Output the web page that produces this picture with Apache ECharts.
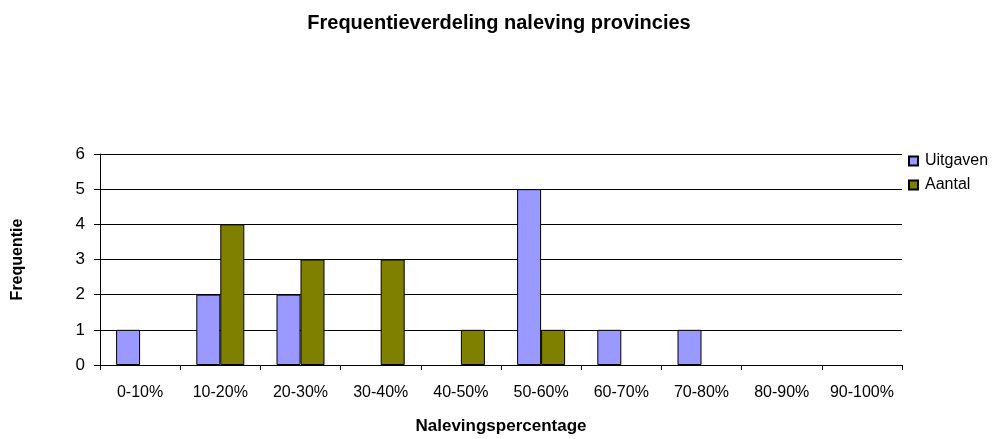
<!DOCTYPE html>
<html>
<head>
<meta charset="utf-8">
<script src="https://cdn.jsdelivr.net/npm/echarts@6/dist/echarts.min.js"></script>
<style>
  html, body { margin: 0; padding: 0; background: #fff; }
  #chart { width: 998px; height: 439px; }
</style>
</head>
<body>
<div id="chart"></div>
<script>
// frequency of provinces per compliance bucket
var categories = ['0-10%', '10-20%', '20-30%', '30-40%', '40-50%', '50-60%', '60-70%', '70-80%', '80-90%', '90-100%'];
var uitgaven = [1, 2, 2, 0, 0, 5, 1, 1, 0, 0];
var aantal = [0, 4, 3, 3, 1, 1, 0, 0, 0, 0];
var yTicks = [0, 1, 2, 3, 4, 5, 6];

// zero buckets draw no bar at all
function noZero(arr) {
  return arr.map(function (v) { return v === 0 ? '-' : v; });
}

var font = 'Arial, "Liberation Sans", sans-serif';
var chart = echarts.init(document.getElementById('chart'));

chart.setOption({
  animation: false,
  textStyle: { fontFamily: font, color: '#000' },
  title: {
    text: 'Frequentieverdeling naleving provincies',
    left: 'center',
    top: 8,
    textStyle: { fontFamily: font, fontSize: 20, fontWeight: 'bold', color: '#000' }
  },
  legend: {
    orient: 'vertical',
    left: 903,
    top: 148,
    itemWidth: 9,
    itemHeight: 9,
    itemGap: 8,
    icon: 'rect',
    textStyle: { fontFamily: font, fontSize: 16, color: '#000', padding: [0, 0, 0, 2] },
    data: ['Uitgaven', 'Aantal']
  },
  grid: { left: 100, right: 96, top: 154, bottom: 74, containLabel: false },
  xAxis: {
    type: 'category',
    data: categories,
    name: 'Nalevingspercentage',
    nameLocation: 'middle',
    nameGap: 53,
    nameTextStyle: { fontFamily: font, fontSize: 17, fontWeight: 'bold', color: '#000' },
    axisLine: { lineStyle: { color: '#000', width: 1 } },
    axisTick: { show: true, interval: 0, length: 5, inside: false, lineStyle: { color: '#000' } },
    axisLabel: { interval: 0, fontFamily: font, fontSize: 16, color: '#000', margin: 20 },
    splitLine: { show: false }
  },
  yAxis: {
    type: 'value',
    min: yTicks[0],
    max: yTicks[yTicks.length - 1],
    interval: 1,
    name: 'Frequentie',
    nameLocation: 'middle',
    nameGap: 74,
    nameTextStyle: { fontFamily: font, fontSize: 16, fontWeight: 'bold', color: '#000' },
    axisLine: { show: true, lineStyle: { color: '#000', width: 1 } },
    axisTick: { show: true, length: 6, lineStyle: { color: '#000' } },
    axisLabel: { fontFamily: font, fontSize: 17, color: '#000', margin: 15 },
    splitLine: { show: true, lineStyle: { color: '#000', width: 1 } }
  },
  series: [
    {
      name: 'Uitgaven',
      type: 'bar',
      data: noZero(uitgaven),
      barWidth: 24,
      barGap: '0%',
      itemStyle: { color: '#9999FF', borderColor: '#000', borderWidth: 1 }
    },
    {
      name: 'Aantal',
      type: 'bar',
      data: noZero(aantal),
      barWidth: 24,
      barGap: '0%',
      itemStyle: { color: '#808000', borderColor: '#000', borderWidth: 1 }
    }
  ]
});
</script>
</body>
</html>
